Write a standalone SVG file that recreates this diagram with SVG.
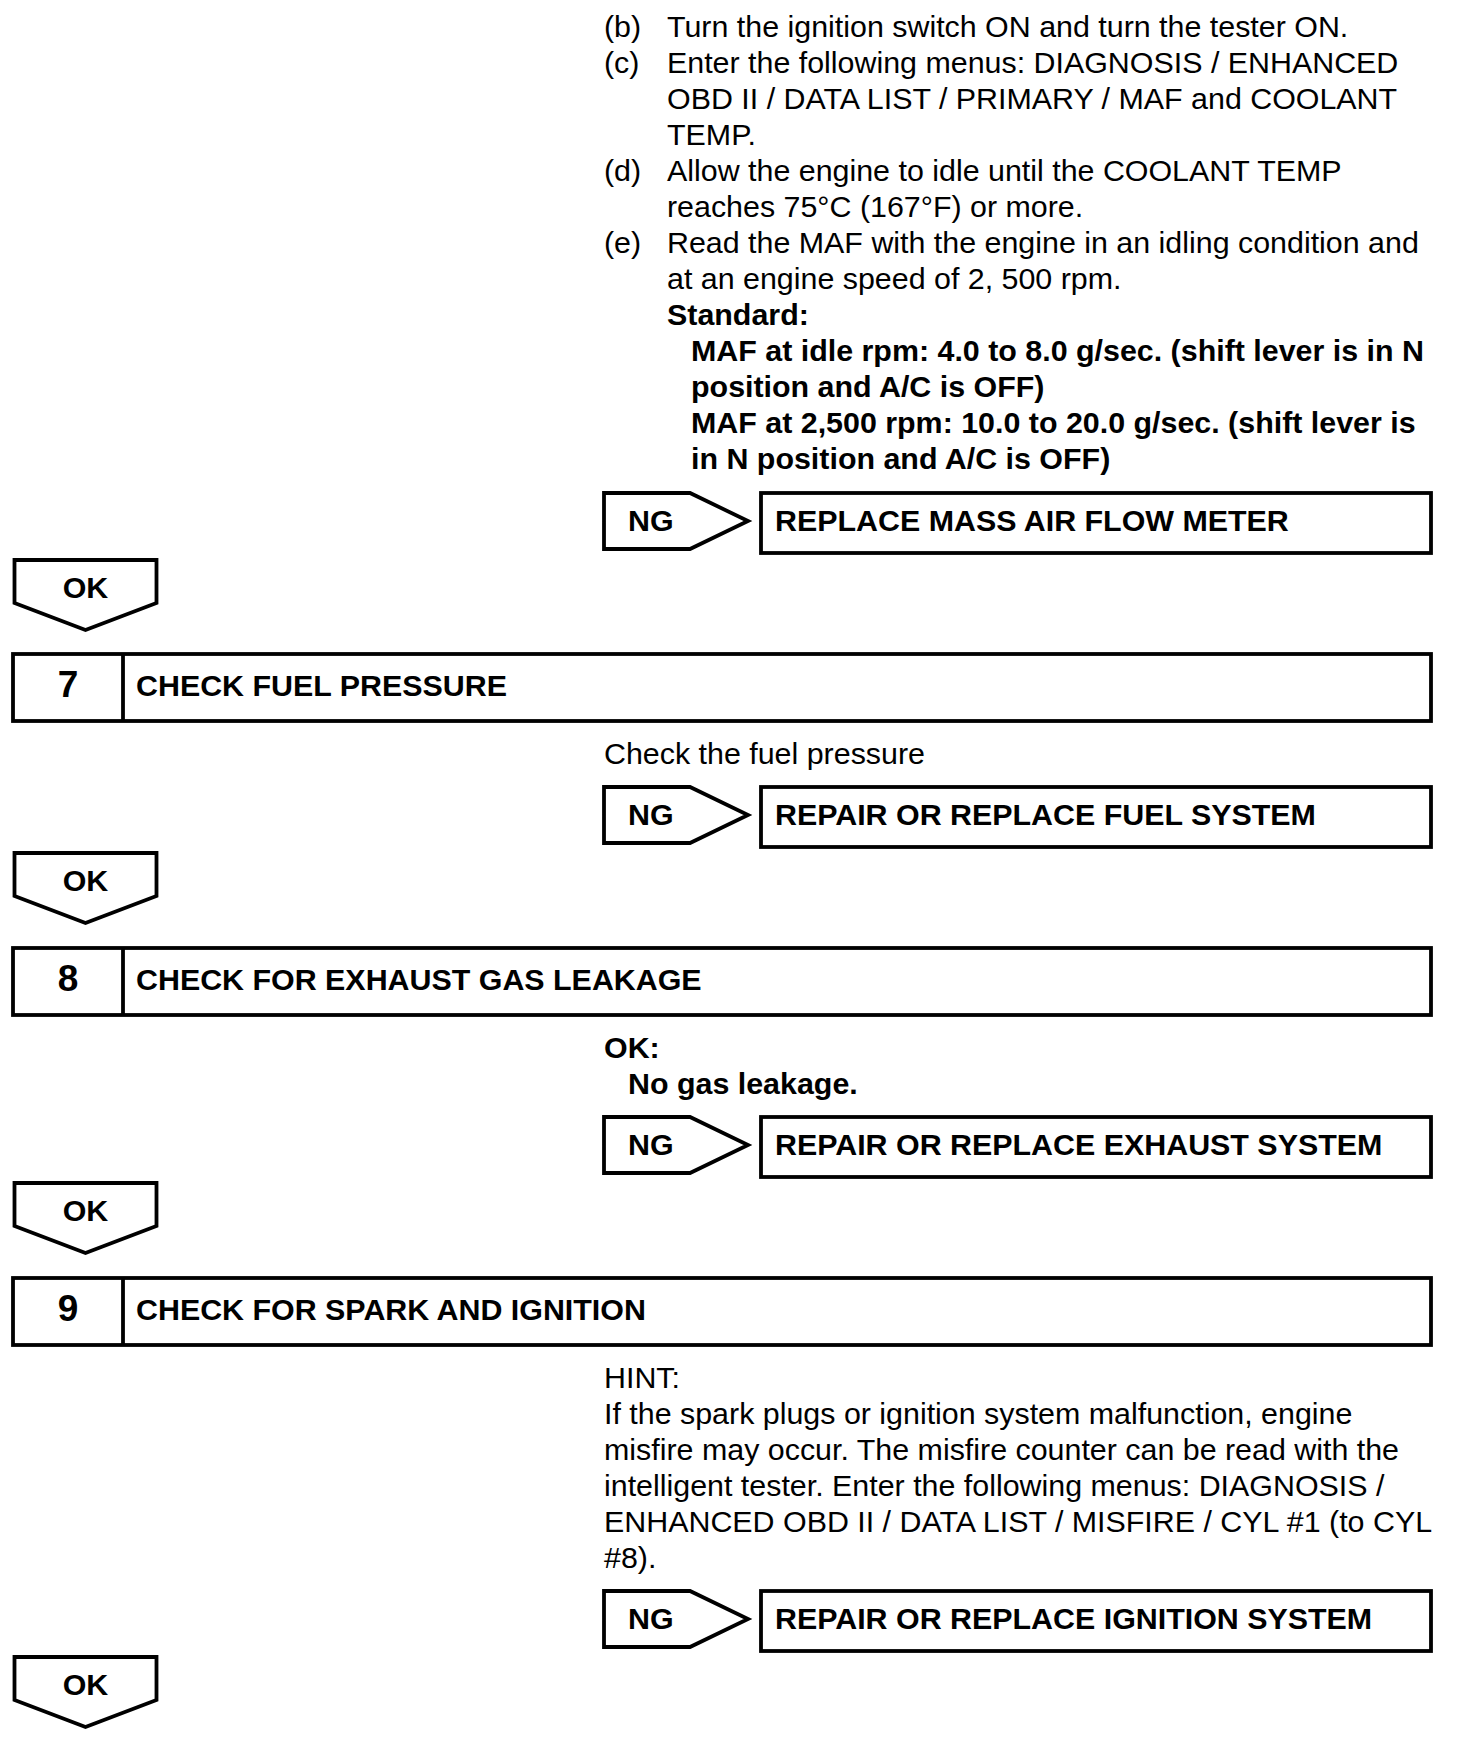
<svg xmlns="http://www.w3.org/2000/svg" width="1472" height="1750" viewBox="0 0 1472 1750">
<style>
text{font-family:"Liberation Sans",Arial,sans-serif;font-size:30.4px;fill:#000}
.b{font-weight:bold}
.num{font-weight:bold;font-size:37px;text-anchor:middle}
.c{text-anchor:middle}
.box{fill:#fff;stroke:#000;stroke-width:3.8}
</style>
<rect width="1472" height="1750" fill="#fff"/>

<g id="text6">
<text x="604" y="37">(b)</text><text x="667" y="37">Turn the ignition switch ON and turn the tester ON.</text>
<text x="604" y="73">(c)</text><text x="667" y="73">Enter the following menus: DIAGNOSIS / ENHANCED</text>
<text x="667" y="109">OBD II / DATA LIST / PRIMARY / MAF and COOLANT</text>
<text x="667" y="145">TEMP.</text>
<text x="604" y="181">(d)</text><text x="667" y="181">Allow the engine to idle until the COOLANT TEMP</text>
<text x="667" y="217">reaches 75°C (167°F) or more.</text>
<text x="604" y="253">(e)</text><text x="667" y="253">Read the MAF with the engine in an idling condition and</text>
<text x="667" y="289">at an engine speed of 2, 500 rpm.</text>
<text class="b" x="667" y="325">Standard:</text>
<text class="b" x="691" y="361">MAF at idle rpm: 4.0 to 8.0 g/sec. (shift lever is in N</text>
<text class="b" x="691" y="397">position and A/C is OFF)</text>
<text class="b" x="691" y="433">MAF at 2,500 rpm: 10.0 to 20.0 g/sec. (shift lever is</text>
<text class="b" x="691" y="469">in N position and A/C is OFF)</text>
</g>

<g id="ng6">
<polygon class="box" points="604,493 690,493 748,521 690,549 604,549"/>
<text class="b" x="628" y="531">NG</text>
</g>
<g id="result6">
<rect class="box" x="761" y="493" width="670" height="60"/>
<text class="b" x="775" y="531">REPLACE MASS AIR FLOW METER</text>
</g>
<g id="ok6">
<polygon class="box" points="14.5,560 156.5,560 156.5,603 85.5,630 14.5,603"/>
<text class="b c" x="85.5" y="598">OK</text>
</g>

<g id="step7">
<rect class="box" x="13" y="654" width="1418" height="67"/>
<line x1="123" y1="654" x2="123" y2="721" stroke="#000" stroke-width="3.8"/>
<text class="num" x="68" y="697">7</text>
<text class="b" x="136" y="696">CHECK FUEL PRESSURE</text>
</g>
<g id="text7">
<text x="604" y="764">Check the fuel pressure</text>
</g>
<g id="ng7">
<polygon class="box" points="604,787 690,787 748,815 690,843 604,843"/>
<text class="b" x="628" y="825">NG</text>
</g>
<g id="result7">
<rect class="box" x="761" y="787" width="670" height="60"/>
<text class="b" x="775" y="825">REPAIR OR REPLACE FUEL SYSTEM</text>
</g>
<g id="ok7">
<polygon class="box" points="14.5,853 156.5,853 156.5,896 85.5,923 14.5,896"/>
<text class="b c" x="85.5" y="891">OK</text>
</g>

<g id="step8">
<rect class="box" x="13" y="948" width="1418" height="67"/>
<line x1="123" y1="948" x2="123" y2="1015" stroke="#000" stroke-width="3.8"/>
<text class="num" x="68" y="991">8</text>
<text class="b" x="136" y="990">CHECK FOR EXHAUST GAS LEAKAGE</text>
</g>
<g id="text8">
<text class="b" x="604" y="1058">OK:</text>
<text class="b" x="628" y="1094">No gas leakage.</text>
</g>
<g id="ng8">
<polygon class="box" points="604,1117 690,1117 748,1145 690,1173 604,1173"/>
<text class="b" x="628" y="1155">NG</text>
</g>
<g id="result8">
<rect class="box" x="761" y="1117" width="670" height="60"/>
<text class="b" x="775" y="1155">REPAIR OR REPLACE EXHAUST SYSTEM</text>
</g>
<g id="ok8">
<polygon class="box" points="14.5,1183 156.5,1183 156.5,1226 85.5,1253 14.5,1226"/>
<text class="b c" x="85.5" y="1221">OK</text>
</g>

<g id="step9">
<rect class="box" x="13" y="1278" width="1418" height="67"/>
<line x1="123" y1="1278" x2="123" y2="1345" stroke="#000" stroke-width="3.8"/>
<text class="num" x="68" y="1321">9</text>
<text class="b" x="136" y="1320">CHECK FOR SPARK AND IGNITION</text>
</g>
<g id="text9">
<text x="604" y="1388">HINT:</text>
<text x="604" y="1424">If the spark plugs or ignition system malfunction, engine</text>
<text x="604" y="1460">misfire may occur. The misfire counter can be read with the</text>
<text x="604" y="1496">intelligent tester. Enter the following menus: DIAGNOSIS /</text>
<text x="604" y="1532">ENHANCED OBD II / DATA LIST / MISFIRE / CYL #1 (to CYL</text>
<text x="604" y="1568">#8).</text>
</g>
<g id="ng9">
<polygon class="box" points="604,1591 690,1591 748,1619 690,1647 604,1647"/>
<text class="b" x="628" y="1629">NG</text>
</g>
<g id="result9">
<rect class="box" x="761" y="1591" width="670" height="60"/>
<text class="b" x="775" y="1629">REPAIR OR REPLACE IGNITION SYSTEM</text>
</g>
<g id="ok9">
<polygon class="box" points="14.5,1657 156.5,1657 156.5,1700 85.5,1727 14.5,1700"/>
<text class="b c" x="85.5" y="1695">OK</text>
</g>

<g id="connectors"></g>
</svg>
